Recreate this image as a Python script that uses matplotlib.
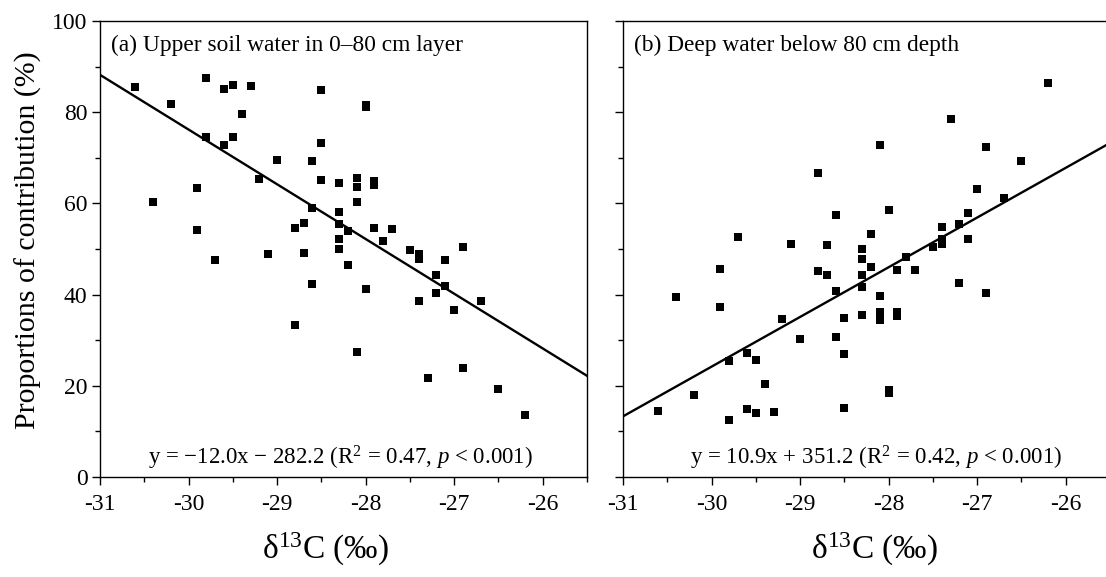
import numpy as np
import matplotlib
matplotlib.use("Agg")
import matplotlib.pyplot as plt
from matplotlib.ticker import MultipleLocator

plt.rcParams["font.family"] = ["Liberation Serif", "DejaVu Serif"]
plt.rcParams["mathtext.fontset"] = "custom"
plt.rcParams["mathtext.rm"] = "Liberation Serif"
plt.rcParams["mathtext.it"] = "Liberation Serif:italic"
plt.rcParams["axes.unicode_minus"] = False

# ---- data ----
# (a) upper soil water in 0-80 cm layer
d13c_a = [-30.6, -30.2, -29.8, -29.6, -29.5, -29.3, -28.5, -29.4, -29.8, -29.6,
          -29.5, -28.5, -29.0, -28.6, -29.2, -28.5, -28.3, -29.9, -30.4, -28.6,
          -28.3, -28.7, -28.8, -28.3, -28.2, -29.9, -28.3, -28.3, -28.2, -29.7,
          -29.1, -28.7, -28.6, -28.8, -28.0, -28.0, -28.1, -28.1, -27.9, -27.9,
          -28.1, -27.9, -27.7, -27.8, -27.5, -27.4, -27.4, -27.1, -26.9, -27.2,
          -27.1, -27.2, -27.4, -27.0, -26.7, -28.0, -28.1, -27.3, -26.9, -26.5,
          -26.2]
prop_a = [85.6, 81.8, 87.6, 85.0, 85.9, 85.7, 84.9, 79.7, 74.6, 72.9,
          74.5, 73.2, 69.5, 69.2, 65.4, 65.1, 64.4, 63.3, 60.2, 58.9,
          58.2, 55.8, 54.7, 55.5, 54.0, 54.2, 52.2, 49.9, 46.4, 47.6,
          48.9, 49.1, 42.3, 33.3, 81.6, 81.1, 65.5, 63.6, 64.9, 64.1,
          60.2, 54.5, 54.4, 51.8, 49.8, 48.8, 47.7, 47.5, 50.5, 44.4,
          41.9, 40.3, 38.5, 36.6, 38.5, 41.2, 27.4, 21.7, 23.8, 19.2,
          13.5]

# (b) deep water below 80 cm depth
d13c_b = [-28.8, -28.6, -29.7, -28.2, -26.2, -27.3, -28.1, -26.9, -26.5, -27.0,
          -26.7, -28.0, -27.1, -27.4, -27.2, -27.4, -27.4, -27.5, -27.1, -28.3,
          -28.3, -28.2, -27.8, -28.3, -27.9, -27.7, -28.3, -28.1, -27.2, -26.9,
          -28.5, -28.3, -28.1, -28.1, -27.9, -27.9, -28.0, -28.0, -29.1, -28.7,
          -28.8, -28.7, -29.9, -28.6, -30.4, -29.9, -29.2, -29.0, -28.6, -28.5,
          -29.6, -29.8, -29.5, -29.4, -30.2, -30.6, -29.6, -29.5, -29.3, -29.8,
          -28.5]
prop_b = [66.6, 57.5, 52.6, 53.4, 86.5, 78.4, 72.7, 72.4, 69.4, 63.2,
          61.1, 58.6, 58.0, 54.8, 55.5, 52.3, 51.2, 50.4, 52.3, 49.9,
          47.9, 46.0, 48.3, 44.3, 45.4, 45.4, 41.6, 39.7, 42.6, 40.3,
          34.8, 35.5, 36.2, 34.5, 36.2, 35.2, 19.1, 18.4, 51.1, 50.8,
          45.2, 44.2, 45.6, 40.8, 39.5, 37.2, 34.6, 30.3, 30.8, 26.9,
          27.1, 25.5, 25.7, 20.4, 18.0, 14.5, 15.0, 14.0, 14.2, 12.4,
          15.1]

# regression lines (slope, intercept) as drawn
fit_a = (-12.0, -283.8)
fit_b = (10.9, 351.2)

titles = ["(a) Upper soil water in 0\u201380 cm layer",
          "(b) Deep water below 80 cm depth"]
eqs = [r"y = $-$12.0x $-$ 282.2 (R$^2$ = 0.47, $p$ < 0.001)",
       r"y = 10.9x + 351.2 (R$^2$ = 0.42, $p$ < 0.001)"]

xlim = (-31, -25.5)

fig = plt.figure(figsize=(11.06, 5.77), dpi=100)
ax_a = fig.add_axes([0.0904, 0.1733, 0.4403, 0.7903])
ax_b = fig.add_axes([0.5633, 0.1733, 0.4403, 0.7903])

panels = [(ax_a, d13c_a, prop_a, fit_a, titles[0], eqs[0], 0.493, 0.462),
          (ax_b, d13c_b, prop_b, fit_b, titles[1], eqs[1], 0.52, 0.517)]

for ax, xs, ys, fit, title, eq, eqx, labx in panels:
    ax.scatter(xs, ys, marker="s", s=34, color="black", linewidths=0, zorder=3)
    lx = np.array(xlim)
    ax.plot(lx, fit[0] * lx + fit[1], color="black", lw=1.7, zorder=2)

    ax.set_xlim(*xlim)
    ax.set_ylim(0, 100)
    ax.xaxis.set_major_locator(MultipleLocator(1))
    ax.xaxis.set_minor_locator(MultipleLocator(0.5))
    ax.yaxis.set_major_locator(MultipleLocator(20))
    ax.yaxis.set_minor_locator(MultipleLocator(10))
    ax.tick_params(which="both", direction="out", top=False, right=False,
                   width=1.0, labelsize=17)
    ax.tick_params(which="major", length=6)
    ax.tick_params(axis="x", which="major", pad=6)
    ax.tick_params(axis="y", which="major", pad=3)
    ax.tick_params(which="minor", length=3.5)
    for sp in ax.spines.values():
        sp.set_linewidth(1.0)

    ax.text(0.022, 0.947, title, transform=ax.transAxes, fontsize=16.8,
            ha="left", va="center")
    ax.text(eqx, 0.042, eq, transform=ax.transAxes, fontsize=16.5,
            ha="center", va="center")

    ax.set_xlabel(r"$\mathregular{\delta^{13}}$C (‰)", fontsize=24)
    ax.xaxis.label.set_va("center")
    ax.xaxis.set_label_coords(labx, -0.158)

ax_a.set_ylabel("Proportions of contribution (%)", fontsize=21.5)
ax_a.yaxis.label.set_va("center")
ax_a.yaxis.set_label_coords(-0.148, 0.52)
ax_b.tick_params(axis="y", labelleft=False)

fig.savefig("out.png", dpi=100)
